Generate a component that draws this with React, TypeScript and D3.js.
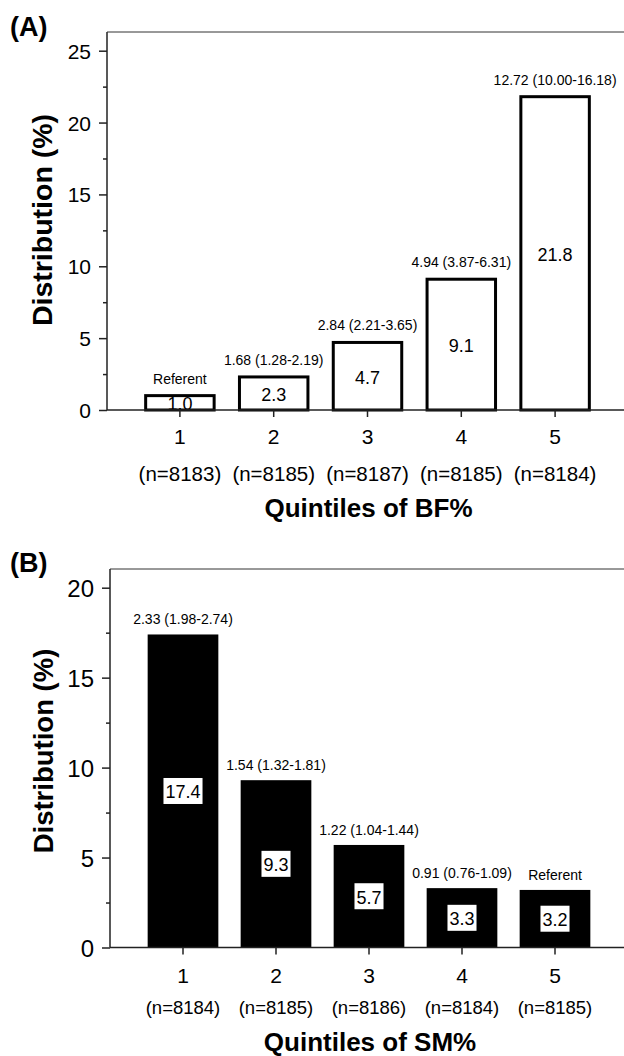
import React, { useRef, useEffect } from 'react';
import * as d3 from 'd3';

const quintiles = ['1', '2', '3', '4', '5'];

// (A) body fat %
const bfValues = [1.0, 2.3, 4.7, 9.1, 21.8];
const bfCounts = ['(n=8183)', '(n=8185)', '(n=8187)', '(n=8185)', '(n=8184)'];
const bfOdds = ['Referent', '1.68 (1.28-2.19)', '2.84 (2.21-3.65)', '4.94 (3.87-6.31)', '12.72 (10.00-16.18)'];
const bfTicks = [0, 5, 10, 15, 20, 25];

// (B) skeletal muscle %
const smValues = [17.4, 9.3, 5.7, 3.3, 3.2];
const smCounts = ['(n=8184)', '(n=8185)', '(n=8186)', '(n=8184)', '(n=8185)'];
const smOdds = ['2.33 (1.98-2.74)', '1.54 (1.32-1.81)', '1.22 (1.04-1.44)', '0.91 (0.76-1.09)', 'Referent'];
const smTicks = [0, 5, 10, 15, 20];

const W = 624;
const H = 1056;
const FONT = '"Liberation Sans", Arial, Helvetica, sans-serif';
const AX = '#222';

interface PanelCfg {
  letter: string;
  letterY: number;
  values: number[];
  counts: string[];
  odds: string[];
  ticks: number[];
  yMax: number;
  zeroY: number;
  maxY: number;
  topY: number;
  axisX: number;
  xRange: [number, number];
  padInner: number;
  filled: boolean;
  yTickFont: number;
  xNumY: number;
  nY: number;
  nFont: number;
  title: string;
  titleY: number;
  titleFont: number;
  yLabelX: number;
  yLabelY: number;
  yLabelFont: number;
}

const drawPanel = (svg: d3.Selection<SVGSVGElement, unknown, null, undefined>, c: PanelCfg) => {
  const g = svg.append('g').attr('font-family', FONT);

  const y = d3.scaleLinear().domain([0, c.yMax]).range([c.zeroY, c.maxY]);
  const x = d3.scaleBand<string>()
    .domain(quintiles)
    .range(c.xRange)
    .paddingInner(c.padInner)
    .paddingOuter(c.padInner / 2);

  // frame lines
  g.append('line')
    .attr('x1', c.axisX).attr('x2', c.axisX)
    .attr('y1', y(0)).attr('y2', c.topY)
    .attr('stroke', AX).attr('stroke-width', 1.5);
  g.append('line')
    .attr('x1', c.axisX).attr('x2', W)
    .attr('y1', c.topY).attr('y2', c.topY)
    .attr('stroke', '#333').attr('stroke-width', 1);

  // y axis
  const ya = g.append('g')
    .attr('transform', `translate(${c.axisX},0)`)
    .call(d3.axisLeft(y).tickValues(c.ticks).tickSize(8).tickPadding(8).tickSizeOuter(0));
  ya.select('.domain').remove();
  ya.selectAll('line').attr('stroke', AX).attr('stroke-width', 1.5);
  ya.selectAll('text')
    .attr('font-family', FONT)
    .attr('font-size', c.yTickFont)
    .attr('fill', '#000')
    .attr('dy', '0.36em');

  const minor = d3.range(2.5, c.yMax, 5);
  const ym = g.append('g')
    .attr('transform', `translate(${c.axisX},0)`)
    .call(d3.axisLeft(y).tickValues(minor).tickSize(4).tickSizeOuter(0).tickFormat(() => ''));
  ym.select('.domain').remove();
  ym.selectAll('line').attr('stroke', AX).attr('stroke-width', 1.5);

  // bars
  const bw = x.bandwidth();
  quintiles.forEach((q, i) => {
    const v = c.values[i];
    const x0 = x(q)!;
    const cx = x0 + bw / 2;
    if (c.filled) {
      g.append('rect')
        .attr('x', x0).attr('y', y(v))
        .attr('width', bw).attr('height', y(0) - y(v))
        .attr('fill', '#000');
    } else {
      g.append('rect')
        .attr('x', x0).attr('y', y(v))
        .attr('width', bw).attr('height', y(0) - y(v))
        .attr('fill', '#fff')
        .attr('stroke', '#000')
        .attr('stroke-width', 3);
    }

    const mid = (y(v) + y(0)) / 2;
    const t = g.append('text')
      .attr('x', cx).attr('y', mid + 7.5)
      .attr('text-anchor', 'middle')
      .attr('font-size', 18)
      .attr('fill', '#000')
      .text(v.toFixed(1));
    if (c.filled) {
      const bb = (t.node() as SVGTextElement).getBBox();
      g.insert('rect', () => t.node())
        .attr('x', cx - bb.width / 2 - 2)
        .attr('y', mid - 13)
        .attr('width', bb.width + 4)
        .attr('height', 26)
        .attr('fill', '#fff');
    }

    // odds ratio above the bar
    g.append('text')
      .attr('x', cx).attr('y', y(v) - (c.filled ? 10 : 12))
      .attr('text-anchor', 'middle')
      .attr('font-size', 14)
      .attr('fill', '#000')
      .text(c.odds[i]);

    // x tick + labels
    g.append('line')
      .attr('x1', cx).attr('x2', cx)
      .attr('y1', y(0)).attr('y2', y(0) + 7)
      .attr('stroke', AX).attr('stroke-width', 1.5);
    g.append('text')
      .attr('x', cx).attr('y', c.xNumY)
      .attr('text-anchor', 'middle')
      .attr('font-size', 21)
      .text(q);
    g.append('text')
      .attr('x', cx).attr('y', c.nY)
      .attr('text-anchor', 'middle')
      .attr('font-size', c.nFont)
      .text(c.counts[i]);
  });

  // x axis line
  g.append('line')
    .attr('x1', c.axisX).attr('x2', W)
    .attr('y1', y(0)).attr('y2', y(0))
    .attr('stroke', AX).attr('stroke-width', 1.5);

  // titles
  g.append('text')
    .attr('x', (c.axisX + W) / 2 + 3).attr('y', c.titleY)
    .attr('text-anchor', 'middle')
    .attr('font-size', c.titleFont)
    .attr('font-weight', 'bold')
    .text(c.title);

  g.append('text')
    .attr('transform', `translate(${c.yLabelX},${c.yLabelY}) rotate(-90)`)
    .attr('text-anchor', 'middle')
    .attr('font-size', c.yLabelFont)
    .attr('font-weight', 'bold')
    .text('Distribution (%)');

  g.append('text')
    .attr('x', 10).attr('y', c.letterY)
    .attr('font-size', 27)
    .attr('font-weight', 'bold')
    .text(c.letter);
};

const App: React.FC = () => {
  const svgRef = useRef<SVGSVGElement>(null);

  useEffect(() => {
    const svg = d3.select(svgRef.current!);
    svg.selectAll('*').remove();

    drawPanel(svg, {
      letter: '(A)', letterY: 36,
      values: bfValues, counts: bfCounts, odds: bfOdds, ticks: bfTicks,
      yMax: 25, zeroY: 410, maxY: 50.7, topY: 32, axisX: 107,
      xRange: [133, 602], padInner: 0.27, filled: false,
      yTickFont: 21, xNumY: 444, nY: 481, nFont: 20.5,
      title: 'Quintiles of BF%', titleY: 517, titleFont: 26,
      yLabelX: 52, yLabelY: 220, yLabelFont: 28.5,
    });

    drawPanel(svg, {
      letter: '(B)', letterY: 572,
      values: smValues, counts: smCounts, odds: smOdds, ticks: smTicks,
      yMax: 20, zeroY: 947.5, maxY: 587.7, topY: 569, axisX: 110,
      xRange: [136.5, 601.5], padInner: 0.24, filled: true,
      yTickFont: 24, xNumY: 983, nY: 1014, nFont: 18.5,
      title: 'Quintiles of SM%', titleY: 1051, titleFont: 26,
      yLabelX: 53, yLabelY: 751, yLabelFont: 27.5,
    });
  }, []);

  return (
    <svg
      ref={svgRef}
      width={W}
      height={H}
      style={{ position: 'absolute', left: 0, top: 0, background: '#fff' }}
    />
  );
};

export default App;
